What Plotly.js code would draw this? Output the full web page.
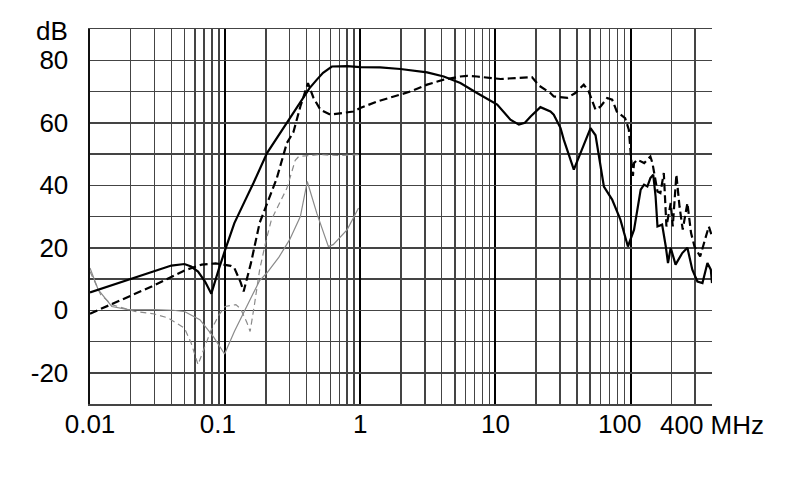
<!DOCTYPE html>
<html>
<head>
<meta charset="utf-8">
<script src="https://cdn.plot.ly/plotly-3.0.1.min.js"></script>
<style>html,body{margin:0;padding:0;background:#fff;}#chart{width:790px;height:499px;}</style>
</head>
<body>
<div id="chart"></div>
<script>
// Solid black curve
const freqA = [0.01,0.02,0.03,0.04,0.05,0.056,0.063,0.071,0.079,0.085,0.09,0.1,0.117,0.14,0.162,0.204,0.286,0.38,0.42,0.477,0.53,0.616,0.8,1.0,1.4,1.98,3.12,4.14,5.5,7.3,10.3,12.9,14.9,16.5,18.2,21.5,25.5,27,30.3,32,38,41.4,50.5,55,58.2,63.4,73,84,95.5,106,118.7,125.6,133,140,147,153,158,171,182,189,198,215,241,263,286,312,340,370,392,400];
const dbA   = [5.7,10.0,12.7,14.3,14.8,14.0,12.4,9.2,5.3,10,13.3,19.3,27.9,35,40.7,50.3,59.9,68.4,71,73.8,76,78,78.1,77.8,77.7,77.2,76.1,74.8,72.7,69.5,65.8,61,59.4,60,62,65,63.6,62.6,58.3,54.6,45,49,58.3,56,49.2,39.6,35.4,29,20.4,25.8,38.6,40.2,39.6,42.3,43.4,36.4,26.8,27.4,20.4,15.1,20,14.6,18.3,20,13,9.2,8.7,15.1,13,8.7];
// Dashed black curve
const freqB = [0.01,0.0162,0.0286,0.0506,0.067,0.085,0.1,0.11,0.117,0.13,0.137,0.155,0.18,0.24,0.286,0.32,0.36,0.41,0.45,0.506,0.6,0.89,1.0,1.33,1.77,2.35,3.12,4.14,5.5,6.2,7.3,10.9,14,18.6,21,25.5,27,34,39,45,49,55,60,67,73,79,91,97,101,104,106,112,126,140,145,158,166,176,184,198,205,218,230,243,263,280,297,327,355,379,400];
const dbB   = [-1.1,2.8,7.6,12.8,14.6,15,14.6,14.2,13.5,9,6,15,28,42,53.5,57,65.2,72.7,68,64.2,62.6,63.6,64.7,66.8,68.4,70,72.2,73.8,74.8,75,74.8,74,74.3,74.6,71.9,69.5,68.4,68,69.5,72.2,70,64.2,65.2,67.9,67.4,63.6,61.5,57.8,48.2,43,47.1,48.2,47.1,49.2,47.1,38,37.5,43.9,26.8,34.3,26.8,43.4,33.2,25.8,34.3,24.7,20.4,17.2,22.6,26.8,23.6];
// Thin grey solid curve
const freqC = [0.01,0.0115,0.0145,0.0192,0.03,0.041,0.05,0.065,0.082,0.094,0.099,0.117,0.14,0.16,0.18,0.204,0.25,0.3,0.36,0.405,0.477,0.58,0.63,0.8,0.97];
const dbC   = [13.5,6.6,1.2,0.2,0.2,0,-0.4,-3,-8.5,-12.6,-14,-6.8,0.3,5.1,9.5,12,17,22.6,30,41.2,31,20.4,21,25.8,32.7];
// Thin grey dashed curve
const freqD = [0.01,0.012,0.0145,0.0215,0.03,0.038,0.05,0.056,0.063,0.07,0.079,0.09,0.1,0.12,0.13,0.145,0.153,0.165,0.18,0.2,0.22,0.286,0.33,0.35,0.5,0.7,1.0];
const dbD   = [12.4,5,1.8,-0.4,-1.2,-2.5,-5.7,-10.5,-17.4,-12,-6.2,-1.5,1.2,1.8,0.5,-4,-6.8,2,13,22,29,39,48,49.2,49.8,49.5,49.8];

const xTickVals = [0.01,0.1,1,10,100];
const xTickText = ['0.01','0.1\u00a0\u00a0','1','10','100\u00a0\u00a0\u00a0'];
const yTickVals = [-20,0,20,40,60,80];
const yTickText = ['-20','0','20','40','60','80'];

const font = {family:'"Liberation Sans", Arial, sans-serif', size:26, color:'#000'};

const traces = [
  {x:freqC, y:dbC, mode:'lines', line:{color:'#8a8a8a', width:1.2}, hoverinfo:'skip'},
  {x:freqD, y:dbD, mode:'lines', line:{color:'#8a8a8a', width:1.2, dash:'6px,4px'}, hoverinfo:'skip'},
  {x:freqB, y:dbB, mode:'lines', line:{color:'#000', width:2.2, dash:'8px,4px'}, hoverinfo:'skip'},
  {x:freqA, y:dbA, mode:'lines', line:{color:'#000', width:2.2}, hoverinfo:'skip'}
];

const layout = {
  width:790, height:499,
  margin:{l:90, r:78, t:29, b:95, pad:0},
  paper_bgcolor:'#fff', plot_bgcolor:'#fff',
  showlegend:false,
  font:font,
  xaxis:{
    type:'log', range:[-2, Math.log10(400)],
    tickmode:'array', tickvals:xTickVals, ticktext:xTickText, tickangle:0,
    showgrid:true, gridcolor:'#000', gridwidth:2,
    minor:{dtick:'D1', showgrid:true, gridcolor:'#444', gridwidth:1.5, ticks:''},
    showline:true, mirror:true, linecolor:'#444', linewidth:1.5,
    ticks:'', zeroline:false, tickfont:font, ticklabelstandoff:-4
  },
  yaxis:{
    range:[-30, 90], tickmode:'array', tickvals:yTickVals, ticktext:yTickText,
    showgrid:true, gridcolor:'#444', gridwidth:1.5,
    minor:{dtick:10, tick0:0, showgrid:true, gridcolor:'#444', gridwidth:1.5, ticks:''},
    showline:true, mirror:false, linecolor:'#111', linewidth:2.5,
    ticks:'', zeroline:false, tickfont:font, ticklabelstandoff:14
  },
  annotations:[
    {text:'dB', xref:'paper', yref:'paper', x:-0.032, y:1, xanchor:'right', yanchor:'middle', yshift:-2, showarrow:false, font:font},
    {text:'400 MHz', xref:'paper', yref:'paper', x:1, y:0, xanchor:'center', yanchor:'top', yshift:-4, showarrow:false, font:font}
  ]
};

Plotly.newPlot('chart', traces, layout, {staticPlot:true, displayModeBar:false});
</script>
</body>
</html>
